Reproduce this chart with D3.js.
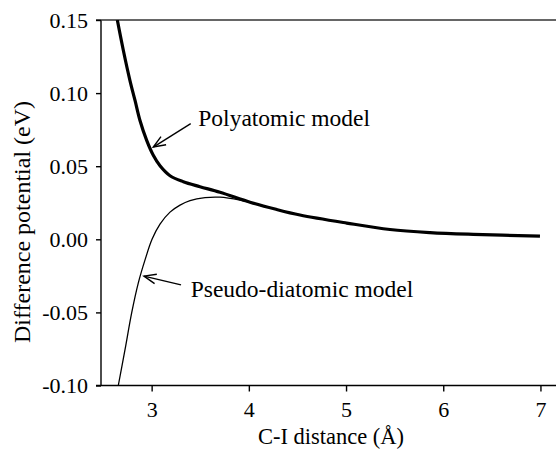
<!DOCTYPE html>
<html>
<head>
<meta charset="utf-8">
<script src="https://cdn.jsdelivr.net/npm/d3@7"></script>
<style>
  body { margin: 0; background: #fff; }
  text { font-family: "Liberation Serif", "Times New Roman", serif; fill: #000; }
</style>
</head>
<body>
<div id="chart"></div>
<script>
// values
let polyX = [2.647, 2.708, 2.777, 2.829, 2.880, 2.949, 3.017, 3.086, 3.189, 3.326, 3.497, 3.703, 4.012, 4.269, 4.526, 5.007, 5.452, 5.864, 6.309, 6.995]
let polyY = [0.150, 0.1295, 0.1086, 0.0950, 0.0813, 0.0677, 0.0575, 0.0503, 0.0435, 0.0394, 0.0360, 0.0322, 0.0254, 0.0207, 0.0166, 0.0111, 0.0067, 0.0046, 0.0034, 0.0022]

let pseudoX = [2.657, 2.726, 2.795, 2.863, 2.932, 3.004, 3.086, 3.189, 3.292, 3.395, 3.549, 3.703, 3.909, 4.043, 4.269, 4.526, 5.007]
let pseudoY = [-0.100, -0.0755, -0.0502, -0.0298, -0.0141, 0.000, 0.0104, 0.0186, 0.0234, 0.0265, 0.0285, 0.0288, 0.0268, 0.0247, 0.0207, 0.0166, 0.0111]

let xTicks = [3, 4, 5, 6, 7]
let yTicks = [-0.10, -0.05, 0.00, 0.05, 0.10, 0.15]
let yTickLabels = ["-0.10", "-0.05", "0.00", "0.05", "0.10", "0.15"]

let width = 556, height = 454
let plotLeft = 101, plotRight = 556, plotTop = 20, plotBottom = 385.5

let svg = d3.select("#chart").append("svg")
    .attr("width", width)
    .attr("height", height)

let x = d3.scaleLinear().domain([2.479, 7.16]).range([plotLeft, plotRight])
let y = d3.scaleLinear().domain([-0.10, 0.15]).range([plotBottom, plotTop])

// frame lines
svg.append("line").attr("x1", plotLeft).attr("x2", plotLeft).attr("y1", plotTop).attr("y2", plotBottom)
    .attr("stroke", "#000").attr("stroke-width", 1.4)
svg.append("line").attr("x1", 96).attr("x2", plotRight).attr("y1", plotTop).attr("y2", plotTop)
    .attr("stroke", "#333").attr("stroke-width", 1.5)
svg.append("line").attr("x1", 96).attr("x2", plotRight).attr("y1", plotBottom).attr("y2", plotBottom)
    .attr("stroke", "#000").attr("stroke-width", 1.4)

// axes
let xAxisG = svg.append("g")
    .attr("transform", "translate(0," + plotBottom + ")")
    .call(d3.axisBottom(x).tickValues(xTicks).tickSize(6).tickSizeOuter(0).tickPadding(10).tickFormat(d3.format("d")))
xAxisG.select(".domain").remove()
xAxisG.selectAll("line").attr("stroke-width", 1.4)
xAxisG.selectAll("text").attr("font-size", 22).attr("font-family", "Liberation Serif")

let yAxisG = svg.append("g")
    .attr("transform", "translate(" + plotLeft + ",0)")
    .call(d3.axisLeft(y).tickValues(yTicks).tickSize(5).tickSizeOuter(0).tickPadding(8)
        .tickFormat(function (d, i) { return yTickLabels[i] }))
yAxisG.select(".domain").remove()
yAxisG.selectAll("line").attr("stroke-width", 1.4)
yAxisG.selectAll("text").attr("font-size", 22).attr("font-family", "Liberation Serif")

// curves
let clip = svg.append("clipPath").attr("id", "plotclip")
clip.append("rect").attr("x", plotLeft).attr("y", plotTop).attr("width", plotRight - plotLeft).attr("height", plotBottom - plotTop)

let line = d3.line()
    .x(function (d) { return x(d[0]) })
    .y(function (d) { return y(d[1]) })
    .curve(d3.curveCatmullRom.alpha(0.5))

let pseudoData = pseudoX.map(function (v, i) { return [v, pseudoY[i]] })
let polyData = polyX.map(function (v, i) { return [v, polyY[i]] })

svg.append("path")
    .datum(pseudoData)
    .attr("clip-path", "url(#plotclip)")
    .attr("d", line)
    .attr("fill", "none")
    .attr("stroke", "#000")
    .attr("stroke-width", 1.3)

svg.append("path")
    .datum(polyData)
    .attr("clip-path", "url(#plotclip)")
    .attr("d", line)
    .attr("fill", "none")
    .attr("stroke", "#000")
    .attr("stroke-width", 3.2)

// annotations
function arrow(x1, y1, x2, y2) {
    let ang = Math.atan2(y2 - y1, x2 - x1)
    let len = 13, spread = 0.38
    let g = svg.append("g").attr("stroke", "#000").attr("stroke-width", 1.4).attr("fill", "none")
    g.append("line").attr("x1", x1).attr("y1", y1).attr("x2", x2).attr("y2", y2)
    g.append("path").attr("d",
        "M" + (x2 - len * Math.cos(ang - spread)) + "," + (y2 - len * Math.sin(ang - spread)) +
        "L" + x2 + "," + y2 +
        "L" + (x2 - len * Math.cos(ang + spread)) + "," + (y2 - len * Math.sin(ang + spread)))
}

arrow(x(3.402), y(0.0791), x(3.017), y(0.0631))
svg.append("text")
    .attr("x", x(3.48))
    .attr("y", y(0.0772))
    .attr("font-size", 23.5)
    .text("Polyatomic model")

arrow(x(3.302), y(-0.0312), x(2.921), y(-0.0252))
svg.append("text")
    .attr("x", x(3.402))
    .attr("y", y(-0.0393))
    .attr("font-size", 23.5)
    .text("Pseudo-diatomic model")

// axis titles
svg.append("text")
    .attr("x", 331)
    .attr("y", 444)
    .attr("text-anchor", "middle")
    .attr("font-size", 22.5)
    .text("C-I distance (Å)")

svg.append("text")
    .attr("transform", "translate(30,222) rotate(-90)")
    .attr("text-anchor", "middle")
    .attr("font-size", 24)
    .text("Difference potential (eV)")
</script>
</body>
</html>
